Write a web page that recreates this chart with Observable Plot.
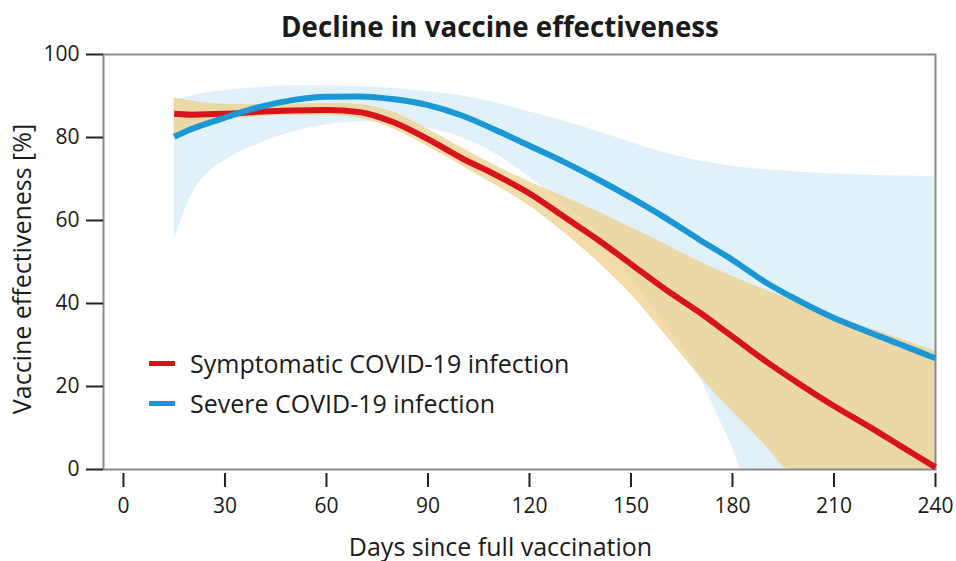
<!DOCTYPE html>
<html>
<head>
<meta charset="utf-8">
<script src="https://cdn.jsdelivr.net/npm/d3@7"></script>
<script src="https://cdn.jsdelivr.net/npm/@observablehq/plot@0.6"></script>
<style>
  html, body { margin: 0; padding: 0; background: #fff; overflow: hidden; }
  #wrap { position: relative; width: 956px; height: 561px; background: #fff; font-family: "Open Sans", sans-serif; color: #1a1a1a; }
  #title { position: absolute; top: 8px; left: 0; width: 956px; padding-left: 44px; box-sizing: border-box; text-align: center; font-weight: 700; font-size: 27.7px; line-height: 36px; }
  #chart { position: absolute; top: 40px; left: 0; }
  .leg { position: absolute; display: flex; align-items: center; font-size: 25px; line-height: 30px; white-space: nowrap; }
  .sw { width: 26px; height: 5px; margin-right: 15px; }
</style>
</head>
<body>
<div id="wrap">
  <div id="title"></div>
  <div id="chart"></div>
</div>
<script>
const titleText = "Decline in vaccine effectiveness";
const xLabel = "Days since full vaccination";
const yLabel = "Vaccine effectiveness [%]";
const seriesNames = ["Symptomatic COVID-19 infection", "Severe COVID-19 infection"];
const seriesColors = ["#d7141a", "#1a97d5"];
const xTicks = [0, 30, 60, 90, 120, 150, 180, 210, 240];
const yTicks = [0, 20, 40, 60, 80, 100];

// central estimates
const days        = [15, 20, 30, 40, 50, 60, 70, 80, 90, 100, 110, 120, 130, 140, 150, 160, 170, 180, 190, 200, 210, 220, 230, 240];
const symptomatic = [85.7, 85.5, 85.7, 86.2, 86.5, 86.6, 86.1, 83.6, 79.6, 75.0, 71.0, 66.5, 61.0, 55.5, 49.5, 43.5, 38.0, 32.0, 26.0, 20.5, 15.3, 10.5, 5.5, 0.5];
const severe      = [80.2, 82.0, 84.8, 87.3, 89.0, 89.8, 89.9, 89.2, 87.8, 85.3, 81.8, 78.0, 74.2, 70.0, 65.5, 60.7, 55.5, 50.5, 45.0, 40.5, 36.5, 33.2, 30.0, 26.8];

// confidence bands
const bandDays         = [15, 20, 25, 30, 40, 50, 60, 70, 80, 90, 100, 110, 120, 130, 140, 150, 160, 170, 175, 180, 183, 190, 197, 200, 210, 220, 230, 240];
const symptomaticUpper = [89.5, 88.8, 88.3, 88.0, 87.9, 88.1, 88.2, 87.9, 86.0, 82.0, 77.5, 73.2, 69.3, 65.8, 62.2, 58.3, 54.3, 50.2, 48.3, 46.5, 45.5, 43.2, 41.0, 40.0, 37.0, 34.2, 31.4, 28.5];
const symptomaticLower = [79.5, 82.0, 83.5, 84.3, 85.0, 85.3, 85.3, 84.6, 82.0, 77.8, 73.2, 68.5, 63.5, 57.2, 50.2, 42.2, 32.6, 22.8, 18.2, 14.0, 11.5, 5.5, 0, 0, 0, 0, 0, 0];
const severeUpper      = [89.0, 90.0, 90.8, 91.3, 92.0, 92.5, 92.5, 92.3, 91.8, 91.0, 90.0, 88.4, 86.2, 84.0, 81.5, 78.8, 76.3, 74.4, 73.7, 73.1, 72.8, 72.2, 71.8, 71.6, 71.2, 70.9, 70.7, 70.6];
const severeLower      = [55.0, 66.0, 71.5, 74.5, 78.5, 81.3, 83.0, 83.8, 83.5, 82.3, 80.0, 76.0, 70.5, 64.0, 57.0, 46.2, 35.0, 22.9, 14.1, 5.3, 0, 0, 0, 0, 0, 0, 0, 0];

const lineRows = days.map((d, i) => ({day: d, sym: symptomatic[i], sev: severe[i]}));
const bandRows = bandDays.map((d, i) => ({
  day: d,
  symHi: symptomaticUpper[i], symLo: symptomaticLower[i],
  sevHi: severeUpper[i], sevLo: severeLower[i]
}));

document.getElementById("title").textContent = titleText;

const curve = "monotone-x";
const chart = Plot.plot({
  width: 956,
  height: 521,
  marginTop: 14,
  marginBottom: 92,
  marginLeft: 103,
  marginRight: 21,
  x: {domain: [-5.9, 240]},
  y: {domain: [0, 100]},
  style: {fontFamily: "'Open Sans', sans-serif", color: "#1a1a1a", background: "#fff", overflow: "visible"},
  marks: [
    Plot.areaY(bandRows, {x: "day", y1: "sevLo", y2: "sevHi", fill: "#e1f1f9", curve}),
    Plot.areaY(bandRows, {x: "day", y1: "symLo", y2: "symHi", fill: "#eecd85", fillOpacity: 0.7, curve}),
    Plot.frame({stroke: "#8a8a8a", strokeWidth: 2}),
    Plot.line(lineRows, {x: "day", y: "sym", stroke: seriesColors[0], strokeWidth: 6, curve, strokeLinecap: "butt"}),
    Plot.line(lineRows, {x: "day", y: "sev", stroke: seriesColors[1], strokeWidth: 6, curve, strokeLinecap: "butt"}),
    Plot.axisY({ticks: yTicks, tickSize: 17, tickPadding: 7, fontSize: 21, label: null, stroke: "#222", strokeWidth: 2}),
    Plot.axisX({ticks: xTicks, tickSize: 14, dy: 4, tickPadding: 11, fontSize: 21, label: null, stroke: "#222", strokeWidth: 2}),
    Plot.text([yLabel], {frameAnchor: "left", textAnchor: "middle", lineAnchor: "middle", dx: -81, dy: 7, rotate: -90, fontSize: 25, fill: "#1a1a1a"}),
    Plot.text([xLabel], {frameAnchor: "bottom", textAnchor: "middle", lineAnchor: "middle", dx: -19, dy: 78, fontSize: 25, fill: "#1a1a1a"})
  ]
});
document.getElementById("chart").appendChild(chart);

// legend
const legendTops = [348, 388];
const wrap = document.getElementById("wrap");
seriesNames.forEach((name, i) => {
  const item = document.createElement("div");
  item.className = "leg";
  item.style.left = "149px";
  item.style.top = legendTops[i] + "px";
  const sw = document.createElement("span");
  sw.className = "sw";
  sw.style.background = seriesColors[i];
  const t = document.createElement("span");
  t.textContent = name;
  item.appendChild(sw);
  item.appendChild(t);
  wrap.appendChild(item);
});
</script>
</body>
</html>
